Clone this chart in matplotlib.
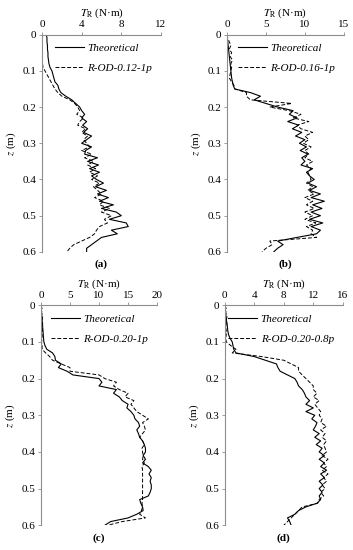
import numpy as np
import matplotlib.pyplot as plt

plt.rcParams['font.family'] = ['Liberation Serif', 'DejaVu Serif']
plt.rcParams['mathtext.fontset'] = 'stix'

z = np.round(np.arange(0, 0.605, 0.01), 2)

# (a)
theo_a = [0.45, 0.5, 0.5, 0.55, 0.55, 0.6, 0.6, 0.65, 0.7, 0.8,
          1.0, 1.1, 1.2, 1.3, 1.6, 1.7, 1.9, 2.4, 3.0, 3.4,
          3.8, 4.0, 4.3, 4.0, 4.5, 4.1, 4.6, 4.2, 5.0, 4.5,
          4.0, 5.0, 4.4, 4.3, 5.6, 4.6, 5.7, 4.8, 5.8, 5.0,
          5.5, 6.2, 5.4, 6.5, 5.6, 6.7, 5.8, 7.2, 6.0, 7.5,
          8.0, 6.8, 8.5, 8.7, 7.0, 7.6, 6.0, 5.5, 5.0, 4.5, 4.5]
exp_a = [0.0, 0.0, 0.0, 0.0, 0.0, 0.0, 0.0, 0.0, 0.05, 0.1,
         0.3, 0.5, 0.7, 0.9, 1.1, 1.3, 1.6, 2.0, 2.8, 3.3,
         3.6, 3.8, 3.5, 4.2, 3.8, 3.6, 4.4, 4.0, 4.6, 4.2,
         4.5, 4.8, 4.0, 5.0, 4.3, 5.2, 4.6, 5.4, 4.8, 5.6,
         5.0, 5.8, 5.2, 5.6, 6.0, 5.3, 6.2, 5.8, 6.8, 6.0,
         7.0, 6.3, 6.6, 5.8, 5.5, 5.3, 4.8, 4.0, 3.2, 2.8, 2.5]

# (b)
theo_b = [0.0, 0.05, 0.1, 0.15, 0.2, 0.25, 0.3, 0.35, 0.4, 0.45,
          0.5, 0.55, 0.6, 0.7, 0.8, 1.0, 3.0, 4.3, 3.5, 5.0,
          6.5, 8.5, 8.0, 9.0, 7.8, 9.2, 8.4, 9.6, 8.8, 10.0,
          9.3, 10.2, 9.4, 10.4, 9.6, 10.0, 9.5, 11.0, 10.2, 10.6,
          11.2, 10.4, 11.5, 10.6, 12.0, 10.8, 12.5, 11.0, 12.2, 10.8,
          12.0, 10.6, 12.3, 10.8, 12.0, 11.5, 9.0, 6.5, 7.2, 6.5, 6.0]
exp_b = [0.0, 0.1, 0.3, 0.5, 0.3, 0.6, 0.4, 0.7, 0.5, 0.6,
         0.5, 0.4, 0.3, 0.6, 0.9, 1.0, 2.5, 2.5, 3.0, 8.3,
         5.5, 8.0, 9.5, 8.5, 10.5, 9.0, 9.5, 11.0, 10.0, 10.5,
         9.8, 10.8, 10.0, 10.5, 10.0, 11.0, 10.2, 10.8, 10.4, 10.6,
         10.8, 10.2, 11.0, 10.4, 11.2, 10.0, 11.0, 10.2, 11.2, 10.0,
         11.0, 10.0, 11.4, 10.2, 11.0, 10.8, 11.5, 5.5, 5.8, 5.0, 4.5]

# (c)
theo_c = [0.0, 0.05, 0.1, 0.15, 0.2, 0.25, 0.3, 0.35, 0.4, 0.45,
          0.5, 0.7, 1.0, 2.0, 2.4, 2.5, 3.5, 3.0, 4.5, 5.5,
          10.0, 10.5, 10.0, 13.0, 12.5, 13.5, 14.0, 15.0, 14.8, 15.5,
          16.0, 16.2, 16.8, 17.0, 16.5, 16.8, 17.0, 17.5, 17.8, 18.0,
          18.0, 17.6, 18.0, 17.5, 18.5, 19.0, 18.6, 19.0, 18.8, 19.0,
          19.0, 18.8, 18.5, 17.0, 17.2, 17.5, 17.6, 16.5, 15.0, 12.0, 11.0]
exp_c = [0.0, 0.2, 0.1, 0.3, 0.2, 0.3, 0.2, 0.3, 0.2, 0.2,
         0.1, 0.2, 0.2, 0.8, 1.5, 2.0, 3.5, 5.0, 5.0, 10.0,
         11.0, 13.0, 12.5, 13.5, 15.0, 14.5, 16.0, 15.5, 16.0, 16.5,
         17.5, 18.5, 17.5, 17.8, 18.0, 17.5, 17.0, 17.5, 17.8, 17.4,
         17.5, 17.6, 17.5, 17.8, 17.4, 17.5, 17.5, 17.5, 17.5, 17.5,
         17.5, 17.5, 17.5, 17.5, 17.4, 17.5, 17.3, 17.0, 18.0, 14.0, 11.5]

# (d)
theo_d = [0.0, 0.05, 0.1, 0.15, 0.2, 0.3, 0.35, 0.4, 0.5, 0.7,
          1.0, 1.1, 1.2, 1.5, 4.0, 5.5, 7.0, 7.2, 7.5, 8.5,
          9.5, 9.8, 10.0, 10.5, 10.8, 11.0, 11.5, 11.0, 12.0, 11.0,
          12.2, 11.8, 12.5, 12.3, 12.0, 12.8, 12.2, 13.0, 12.4, 13.2,
          12.8, 13.5, 12.8, 13.5, 13.0, 13.8, 13.0, 13.5, 12.8, 13.3,
          12.8, 13.2, 12.8, 13.0, 12.5, 11.0, 10.0, 9.5, 8.5, 8.8, 9.0]
exp_d = [0.0, 0.2, 0.1, 0.3, 0.2, 0.2, 0.1, 0.2, 0.2, 0.1,
         0.2, 0.8, 1.5, 1.0, 5.0, 8.0, 9.0, 10.0, 10.0, 10.5,
         11.0, 11.5, 12.0, 12.0, 12.5, 12.0, 12.8, 12.2, 12.6, 13.0,
         12.8, 13.2, 13.0, 13.8, 13.0, 13.6, 13.2, 13.8, 13.4, 13.6,
         13.8, 13.2, 14.0, 13.4, 13.8, 13.2, 14.0, 13.4, 13.8, 13.2,
         13.6, 13.0, 13.4, 12.8, 12.6, 10.5, 10.0, 9.5, 9.0, 8.5, 8.0]

panels = [
    ('(a)', theo_a, exp_a, 'R-OD-0.12-1p', [0, 4, 8, 12], [0.119, 0.542, 0.337, 0.395]),
    ('(b)', theo_b, exp_b, 'R-OD-0.16-1p', [0, 5, 10, 15], [0.643, 0.542, 0.331, 0.395]),
    ('(c)', theo_c, exp_c, 'R-OD-0.20-1p', [0, 5, 10, 15, 20], [0.116, 0.045, 0.329, 0.400]),
    ('(d)', theo_d, exp_d, 'R-OD-0.20-0.8p', [0, 4, 8, 12, 16], [0.637, 0.045, 0.334, 0.400]),
]

fig = plt.figure(figsize=(3.53, 5.5), dpi=100)
grey = '#8c8c8c'
fs = 8
for tag, theo, exp, name, xt, rect in panels:
    ax = fig.add_axes(rect)
    ax.plot(theo, z, color='black', lw=0.8, label='Theoretical')
    ax.plot(exp, z, color='black', lw=0.7, ls=(0, (4, 2)), label=name)
    ax.set_xlim(xt[0], xt[-1])
    ax.set_ylim(0.6, 0)
    ax.set_xticks(xt)
    ax.set_yticks([0, 0.1, 0.2, 0.3, 0.4, 0.5, 0.6])
    ax.set_yticklabels(['0', '0.1', '0.2', '0.3', '0.4', '0.5', '0.6'])
    ax.xaxis.tick_top()
    ax.xaxis.set_label_position('top')
    ax.tick_params(labelsize=fs, length=2, width=0.6, color=grey, pad=2)
    for s in ['right', 'bottom']:
        ax.spines[s].set_visible(False)
    for s in ['left', 'top']:
        ax.spines[s].set_color(grey)
        ax.spines[s].set_linewidth(0.8)
    ax.set_xlabel(r'$T_{\mathrm{R}}$ (N·m)', fontsize=fs, labelpad=3)
    ax.set_ylabel(r'$z$ (m)', fontsize=fs, labelpad=3)
    ax.legend(loc='upper right', frameon=False,
              prop={'style': 'italic', 'size': fs}, handlelength=2.6,
              borderaxespad=0.4, labelspacing=0.9, handletextpad=0.3)
    ax.text(0.5, -0.035, tag, transform=ax.transAxes, ha='center', va='top',
            fontsize=fs, fontweight='bold')

fig.savefig('out.png', dpi=100)
